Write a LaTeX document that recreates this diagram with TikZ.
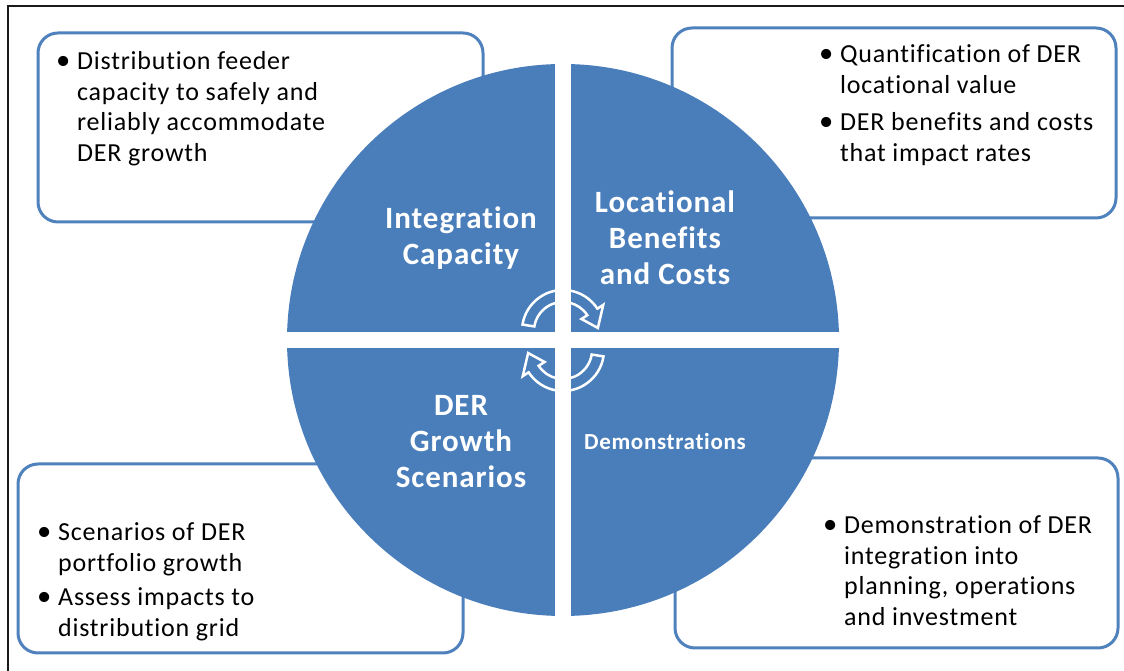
\documentclass[tikz,border=0pt]{standalone}
\usepackage{fontspec}
\usepackage{graphicx}
\setmainfont{Carlito}[Ligatures=NoCommon, LetterSpace=3]
\usetikzlibrary{calc}
\definecolor{Wheel}{HTML}{4A7EBB}
\definecolor{Frame}{HTML}{4F81BD}
\definecolor{Rule}{HTML}{1A1A1A}
\tikzset{
  infobox/.style={
    rounded corners=20pt, draw=Frame, line width=3pt, fill=white,
    inner sep=0pt
  },
  bullets/.style={
    anchor=base west, inner sep=0pt, font=\fontsize{26}{30.5}\selectfont
  },
  quadlabel/.style={
    text=white, align=center, font=\bfseries\fontsize{31}{36}\selectfont
  },
  cyclearrow/.style={draw=white, line width=2.5pt, line join=miter}
}
\newcommand{\bul}{\makebox[21pt][l]{\scalebox{1.1}{\textbullet}}}

\begin{document}
\begin{tikzpicture}[x=1pt,y=1pt]
    \useasboundingbox (0,0) rectangle (1124,671);
    \draw[Rule, line width=1.5pt] (8,0) -- (8,665) -- (1124,665);

    % the four call-out boxes, behind the wheel
    \node[infobox, minimum width=445pt, minimum height=189pt] (icbox) at (260.5,543.5) {};
    \node[infobox, minimum width=444pt, minimum height=190pt] (lbbox) at (894,548) {};
    \node[infobox, minimum width=445pt, minimum height=189pt] (gsbox) at (240.5,112.5) {};
    \node[infobox, minimum width=443pt, minimum height=190pt] (dmbox) at (896.5,118) {};

    \node[bullets] (ictext) at (56,601) {\begin{tabular}[t]{@{}l@{}l@{}}
      \bul & Distribution feeder\\
           & capacity to safely and\\
           & reliably accommodate\\
           & DER growth
    \end{tabular}};
    \node[bullets] (lbtext) at (819,608) {\begin{tabular}[t]{@{}l@{}l@{}}
      \bul & Quantification of DER\\
           & locational value\\[7pt]
      \bul & DER benefits and costs\\
           & that impact rates
    \end{tabular}};
    \node[bullets] (gstext) at (37,130) {\begin{tabular}[t]{@{}l@{}l@{}}
      \bul & Scenarios of DER\\
           & portfolio growth\\[4pt]
      \bul & Assess impacts to\\
           & distribution grid
    \end{tabular}};
    \node[bullets] (dmtext) at (823,137) {\begin{tabular}[t]{@{}l@{}l@{}}
      \bul & Demonstration of DER\\
           & integration into\\
           & planning, operations\\
           & and investment
    \end{tabular}};

    % wheel split into quarters by a white cross
    \node[circle, fill=Wheel, minimum size=552pt, inner sep=0pt] (wheel) at (563,331) {};
    \fill[white] ($(wheel.north)+(-8,1)$) rectangle ($(wheel.south)+(8,-1)$);
    \fill[white] ($(wheel.west)+(-1,-8)$) rectangle ($(wheel.east)+(1,8)$);

    % cycle arrows in the middle
    \begin{scope}[shift={(563,340)}]
      \draw[cyclearrow] (171:41) arc[start angle=171, end angle=33, radius=41]
        -- (33:48) -- (5:35) -- (33:22) -- (33:29)
        arc[start angle=33, end angle=171, radius=29] -- cycle;
    \end{scope}
    \begin{scope}[shift={(563,321)}, rotate=180]
      \draw[cyclearrow] (171:41) arc[start angle=171, end angle=33, radius=41]
        -- (33:48) -- (5:35) -- (33:22) -- (33:29)
        arc[start angle=33, end angle=171, radius=29] -- cycle;
    \end{scope}

    \node[quadlabel] (ic) at (461,433) {Integration\\Capacity};
    \node[quadlabel] (lb) at (665,433) {Locational\\Benefits\\and Costs};
    \node[quadlabel] (gs) at (461,229) {DER\\Growth\\Scenarios};
    \node[quadlabel, font=\bfseries\fontsize{23}{27}\selectfont] (dm) at (665,229) {Demonstrations};
  \end{tikzpicture}
\end{document}
